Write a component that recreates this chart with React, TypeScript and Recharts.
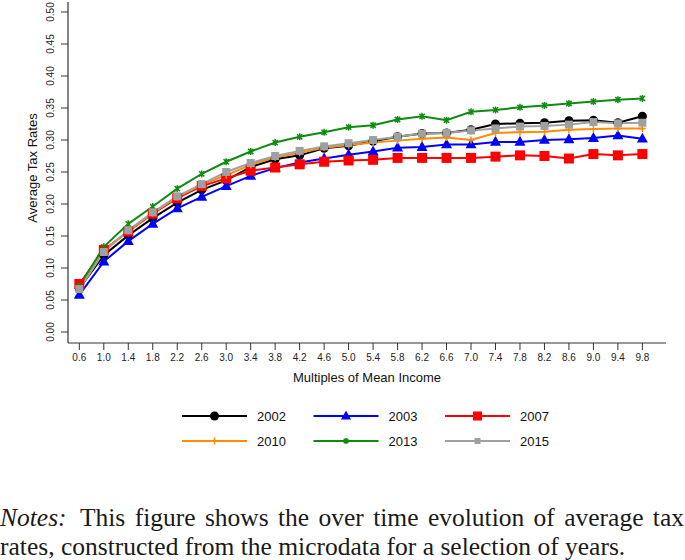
import React from "react";
import { LineChart, Line, XAxis, YAxis } from "recharts";

// multiples of mean income (x categories)
const xValues = [0.6, 1.0, 1.4, 1.8, 2.2, 2.6, 3.0, 3.4, 3.8, 4.2, 4.6, 5.0, 5.4, 5.8, 6.2, 6.6, 7.0, 7.4, 7.8, 8.2, 8.6, 9.0, 9.4, 9.8];
const yTicks = [0, 0.05, 0.1, 0.15, 0.2, 0.25, 0.3, 0.35, 0.4, 0.45, 0.5];

// average tax rates per year
const rate2002 = [0.068, 0.120, 0.151, 0.178, 0.202, 0.222, 0.237, 0.258, 0.270, 0.276, 0.287, 0.291, 0.298, 0.305, 0.310, 0.311, 0.316, 0.325, 0.326, 0.327, 0.330, 0.331, 0.327, 0.337];
const rate2003 = [0.058, 0.110, 0.142, 0.169, 0.193, 0.211, 0.228, 0.244, 0.256, 0.265, 0.271, 0.277, 0.282, 0.288, 0.289, 0.293, 0.293, 0.297, 0.297, 0.300, 0.301, 0.303, 0.307, 0.302];
const rate2007 = [0.075, 0.128, 0.157, 0.185, 0.209, 0.228, 0.240, 0.252, 0.257, 0.262, 0.266, 0.268, 0.269, 0.272, 0.272, 0.272, 0.272, 0.274, 0.276, 0.275, 0.271, 0.278, 0.276, 0.278];
const rate2010 = [0.070, 0.127, 0.158, 0.186, 0.211, 0.230, 0.245, 0.261, 0.273, 0.280, 0.288, 0.292, 0.296, 0.299, 0.302, 0.304, 0.300, 0.311, 0.312, 0.313, 0.316, 0.317, 0.318, 0.318];
const rate2013 = [0.072, 0.133, 0.169, 0.196, 0.224, 0.247, 0.266, 0.282, 0.296, 0.305, 0.312, 0.320, 0.323, 0.332, 0.337, 0.331, 0.344, 0.347, 0.351, 0.354, 0.357, 0.360, 0.363, 0.365];
const rate2015 = [0.067, 0.125, 0.159, 0.187, 0.212, 0.231, 0.250, 0.264, 0.275, 0.283, 0.290, 0.295, 0.300, 0.305, 0.310, 0.311, 0.315, 0.318, 0.321, 0.322, 0.324, 0.328, 0.326, 0.327];

const series = [
  { key: "y2002", name: "2002", values: rate2002, color: "#000000", shape: "circle", size: 9, legendSize: 9 },
  { key: "y2003", name: "2003", values: rate2003, color: "#0000ff", shape: "triangle", size: 11, legendSize: 10 },
  { key: "y2007", name: "2007", values: rate2007, color: "#ff0000", shape: "square", size: 10, legendSize: 9 },
  { key: "y2010", name: "2010", values: rate2010, color: "#ff8c00", shape: "plus", size: 7, legendSize: 7 },
  { key: "y2013", name: "2013", values: rate2013, color: "#118a11", shape: "star", size: 7, legendSize: 6 },
  { key: "y2015", name: "2015", values: rate2015, color: "#a0a0a0", shape: "square", size: 8, legendSize: 6 },
];

const rows = xValues.map((x, i) => {
  const row: any = { x };
  series.forEach((s) => (row[s.key] = s.values[i]));
  return row;
});

const sans = "'Liberation Sans', Arial, sans-serif";
const serif = "'Liberation Serif', serif";
const axisColor = "#333";

const Marker = ({ shape, cx, cy, color, size }: any) => {
  const h = size / 2;
  if (shape === "circle") return <circle cx={cx} cy={cy} r={h} fill={color} />;
  if (shape === "square") return <rect x={cx - h} y={cy - h} width={size} height={size} fill={color} />;
  if (shape === "triangle")
    return <polygon points={`${cx},${cy - size * 0.55} ${cx - h},${cy + size * 0.35} ${cx + h},${cy + size * 0.35}`} fill={color} />;
  if (shape === "plus")
    return <path d={`M${cx - h} ${cy}H${cx + h}M${cx} ${cy - h}V${cy + h}`} stroke={color} strokeWidth={1.5} fill="none" />;
  const d = h * 0.75;
  return (
    <path
      d={`M${cx - d} ${cy - d}L${cx + d} ${cy + d}M${cx - d} ${cy + d}L${cx + d} ${cy - d}M${cx} ${cy - h}V${cy + h}`}
      stroke={color}
      strokeWidth={1.5}
      fill="none"
    />
  );
};

const dotFor = (s: any) => (p: any) => {
  if (p.cx == null || p.cy == null) return <g key={`${s.key}-${p.index}`} />;
  return (
    <g key={`${s.key}-${p.index}`}>
      <Marker shape={s.shape} cx={p.cx} cy={p.cy} color={s.color} size={s.size} />
    </g>
  );
};

const XTick = (props: any) => (
  <text x={props.x} y={357} textAnchor="middle" dominantBaseline="central" fontSize={10} fontFamily={sans} fill="#222">
    {Number(props.payload.value).toFixed(1)}
  </text>
);

const YTick = (props: any) => (
  <text
    x={51}
    y={props.y}
    transform={`rotate(-90, 51, ${props.y})`}
    textAnchor="middle"
    dominantBaseline="central"
    fontSize={10}
    fontFamily={sans}
    fill="#222"
  >
    {Number(props.payload.value).toFixed(2)}
  </text>
);

const Legend = () => (
  <svg width={685} height={60} style={{ position: "absolute", left: 0, top: 396 }}>
    {series.map((s, i) => {
      const col = i % 3;
      const rowIdx = Math.floor(i / 3);
      const x0 = 182 + col * 131.5;
      const y = 20 + rowIdx * 25;
      return (
        <g key={s.key}>
          <line x1={x0} x2={x0 + 65} y1={y} y2={y} stroke={s.color} strokeWidth={2} />
          <Marker shape={s.shape} cx={x0 + 32.5} cy={y} color={s.color} size={s.legendSize} />
          <text x={x0 + 75} y={y} dominantBaseline="central" fontSize={13} fontFamily={sans} fill="#111">
            {s.name}
          </text>
        </g>
      );
    })}
  </svg>
);

const noteLine: React.CSSProperties = {
  position: "absolute",
  left: 0,
  width: 684,
  fontFamily: serif,
  fontSize: 25.5,
  lineHeight: "29px",
  color: "#1a1a1a",
  whiteSpace: "nowrap",
};

export default function App() {
  return (
    <div style={{ position: "absolute", left: 0, top: 0, width: 685, height: 560, background: "#fff", overflow: "hidden" }}>
      <LineChart width={685} height={400} data={rows} margin={{ top: 2, right: 19, bottom: 0, left: 0 }}>
        <XAxis
          type="number"
          dataKey="x"
          domain={[0.415, 10.186]}
          allowDataOverflow
          ticks={xValues}
          interval={0}
          height={57}
          tickSize={7}
          tick={<XTick />}
          axisLine={{ stroke: axisColor, strokeWidth: 1.2 }}
          tickLine={{ stroke: axisColor, strokeWidth: 1 }}
        />
        <YAxis
          type="number"
          domain={[-0.0172, 0.5156]}
          allowDataOverflow
          ticks={yTicks}
          interval={0}
          width={68}
          tickSize={7}
          tick={<YTick />}
          axisLine={{ stroke: axisColor, strokeWidth: 1.2 }}
          tickLine={{ stroke: axisColor, strokeWidth: 1 }}
        />
        {series.map((s) => (
          <Line
            key={s.key}
            dataKey={s.key}
            type="linear"
            stroke={s.color}
            strokeWidth={2}
            dot={dotFor(s)}
            activeDot={false}
            isAnimationActive={false}
          />
        ))}
      </LineChart>
      <div
        style={{
          position: "absolute",
          left: 32,
          top: 168,
          transform: "translate(-50%, -50%) rotate(-90deg)",
          whiteSpace: "nowrap",
          fontFamily: sans,
          fontSize: 13,
          color: "#111",
        }}
      >
        Average Tax Rates
      </div>
      <div
        style={{
          position: "absolute",
          left: 367,
          top: 377,
          transform: "translate(-50%, -50%)",
          whiteSpace: "nowrap",
          fontFamily: sans,
          fontSize: 13,
          color: "#111",
        }}
      >
        Multiples of Mean Income
      </div>
      <Legend />
      <div style={{ ...noteLine, top: 503, display: "flex", justifyContent: "space-between" }}>
        {["Notes:", "This", "figure", "shows", "the", "over", "time", "evolution", "of", "average", "tax"].map((w, i) => (
          <span key={i} style={{ fontStyle: i === 0 ? "italic" : "normal", marginRight: i === 0 ? 4 : 0 }}>
            {w}
          </span>
        ))}
      </div>
      <div style={{ ...noteLine, top: 532 }}>rates, constructed from the microdata for a selection of years.</div>
    </div>
  );
}
